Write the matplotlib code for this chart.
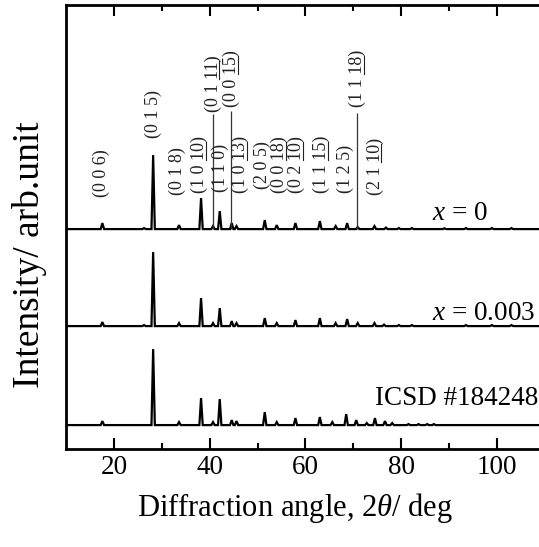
import numpy as np
import matplotlib
matplotlib.use("Agg")
import matplotlib.pyplot as plt

# XRD patterns (Bi2Te3-type).
# positions in 2theta (deg), heights in units of the offset step
x0_pos = [17.6, 26.3, 28.2, 33.6, 38.2, 40.7, 42.1, 44.6, 45.6, 51.5, 54.0, 57.9,
          63.0, 66.3, 68.7, 70.9, 74.4, 76.8, 79.5, 82.2, 89.0, 93.5, 98.9, 103.0]
x0_int = [0.06, 0.01, 0.74, 0.04, 0.31, 0.03, 0.18, 0.06, 0.03, 0.09, 0.04, 0.06,
          0.08, 0.03, 0.06, 0.02, 0.03, 0.015, 0.01, 0.01, 0.008, 0.01, 0.01, 0.01]

x3_pos = [17.6, 26.3, 28.2, 33.6, 38.2, 40.7, 42.1, 44.6, 45.6, 51.5, 54.0, 57.9,
          63.0, 66.3, 68.7, 70.9, 74.4, 76.4, 79.5, 82.2, 93.5, 98.9, 103.0]
x3_int = [0.04, 0.01, 0.74, 0.03, 0.28, 0.03, 0.18, 0.05, 0.03, 0.08, 0.03, 0.06,
          0.08, 0.03, 0.07, 0.03, 0.03, 0.015, 0.01, 0.01, 0.01, 0.01, 0.01]

icsd_pos = [17.6, 28.2, 33.6, 38.2, 40.7, 42.1, 44.6, 45.6, 51.5, 54.0, 57.9, 63.0,
            65.6, 68.5, 70.6, 72.8, 74.5, 76.6, 78.1, 81.5, 83.6, 85.4, 86.8]
icsd_int = [0.04, 0.76, 0.03, 0.27, 0.03, 0.26, 0.05, 0.04, 0.13, 0.03, 0.07, 0.08,
            0.03, 0.11, 0.05, 0.02, 0.07, 0.04, 0.02, 0.01, 0.01, 0.01, 0.01]

# vertical offsets of the three patterns
offsets = [2.20, 1.23, 0.24]
names = ["$x$ = 0", "$x$ = 0.003", "ICSD #184248"]
name_x = [86.4, 86.4, 74.5]
name_y = [2.29, 1.29, 0.44]

# Miller indices of the reflections (two-digit indices get underlined)
hkl = ["(0 0 6)", "(0 1 5)", "(0 1 8)", "(1 0 10)", "(1 1 0)", "(1 0 13)", "(2 0 5)",
       "(0 0 18)", "(0 2 10)", "(1 1 15)", "(1 2 5)", "(2 1 10)",
       "(0 1 11)", "(0 0 15)", "(1 1 18)"]
hkl_x = [17.4, 28.2, 33.2, 37.8, 42.3, 46.5, 51.0, 54.5, 58.1, 63.3, 68.4, 74.5,
         40.7, 44.5, 70.8]
hkl_y = [2.52, 3.11, 2.54, 2.56, 2.57, 2.56, 2.60, 2.56, 2.56, 2.56, 2.56, 2.54,
         3.37, 3.42, 3.42]
# reflections marked with a thin line down to the x = 0 pattern
mark_x = [40.7, 44.5, 70.8]
mark_top = [3.35, 3.38, 3.36]

plt.rcParams["font.family"] = "Liberation Serif"
plt.rcParams["mathtext.fontset"] = "custom"
plt.rcParams["mathtext.rm"] = "Liberation Serif"
plt.rcParams["mathtext.it"] = "Liberation Serif:italic"


def profile(pos, height, base, w=0.35):
    # narrow triangular peaks on a flat baseline
    xs, ys = [10.0], [base]
    for p, h in sorted(zip(pos, height)):
        xs += [p - w, p, p + w]
        ys += [base, base + h, base]
    xs.append(110.0)
    ys.append(base)
    return np.array(xs), np.array(ys)


fig = plt.figure(figsize=(5.39, 5.47), dpi=100)
ax = fig.add_axes([0.1224, 0.179, 0.8887, 0.8117])

patterns = [(x0_pos, x0_int), (x3_pos, x3_int), (icsd_pos, icsd_int)]
for (pos, inten), off in zip(patterns, offsets):
    xs, ys = profile(pos, inten, off)
    ax.plot(xs, ys, color="black", lw=1.6, solid_joinstyle="miter")

for name, nx, ny in zip(names, name_x, name_y):
    ax.text(nx, ny, name, fontsize=19.5, ha="left", va="baseline")

hkl_texts = []
for lab, lx, ly in zip(hkl, hkl_x, hkl_y):
    t = ax.text(lx, ly, lab, fontsize=13, rotation=90, ha="center",
                va="bottom", color="#222222")
    hkl_texts.append(t)

ax.vlines(mark_x, offsets[0], mark_top, color="#333333", lw=0.9)

ax.set_xlim(10, 110)
ax.set_ylim(0, 4.44)
ax.set_xticks([20, 40, 60, 80, 100])
ax.set_xticks([30, 50, 70, 90], minor=True)
ax.set_yticks([])
ax.tick_params(which="both", direction="in", top=True, bottom=True,
               width=1.5, labelsize=19.5, pad=4)
ax.tick_params(which="major", length=8)
ax.tick_params(which="minor", length=4)
for sp in ax.spines.values():
    sp.set_linewidth(2)

ax.set_xlabel(r"Diffraction angle, 2$\theta$/ deg", fontsize=22)
ax.xaxis.set_label_coords(0.478, -0.095)
ax.set_ylabel("Intensity/ arb.unit", fontsize=27)
ax.yaxis.set_label_coords(-0.04, 0.437)

# underline the two-digit indices: mathtext has no \underline, so measure
# where the digits sit inside the rotated label and draw a short line there
fig.canvas.draw()
renderer = fig.canvas.get_renderer()
to_data = ax.transData.inverted()
for t, lab in zip(hkl_texts, hkl):
    prop = t.get_fontproperties()
    bb = t.get_window_extent(renderer)
    _, _, descent = renderer.get_text_width_height_descent("lp", prop, ismath=False)
    em = prop.get_size_in_points() * fig.dpi / 72
    x_line = bb.x1 - descent + 0.1 * em
    start = 0
    for tok in lab.strip("()").split():
        i = lab.index(tok, start if start else 1)
        start = i + len(tok)
        if len(tok) < 2:
            continue
        w0 = renderer.get_text_width_height_descent(lab[:i], prop, ismath=False)[0]
        w1 = renderer.get_text_width_height_descent(lab[:start], prop, ismath=False)[0]
        p0 = to_data.transform((x_line, bb.y0 + w0))
        p1 = to_data.transform((x_line, bb.y0 + w1))
        ax.plot([p0[0], p1[0]], [p0[1], p1[1]], color="#222222", lw=0.8)

fig.savefig("out.png", dpi=100)
